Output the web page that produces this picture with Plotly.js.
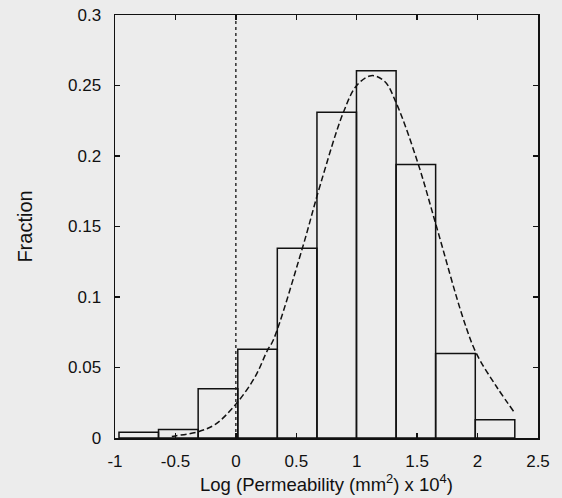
<!DOCTYPE html>
<html>
<head>
<meta charset="utf-8">
<script src="https://cdn.plot.ly/plotly-3.0.1.min.js"></script>
<style>
  html, body { margin: 0; padding: 0; background: #ececec; }
  #chart { width: 562px; height: 498px; }
</style>
</head>
<body>
<div id="chart"></div>
<script>
// Histogram bin edges (log permeability) and fractions
const binEdges = [-0.967, -0.64, -0.312, 0.016, 0.343, 0.671, 0.998, 1.326, 1.653, 1.981, 2.308];
const fractions = [0.004, 0.006, 0.035, 0.063, 0.1345, 0.231, 0.2605, 0.194, 0.06, 0.013];

// Dashed fitted curve
const curveX = [-0.53, -0.50, -0.31, -0.17, 0.0, 0.16, 0.26, 0.31, 0.55, 0.70, 0.89, 1.0, 1.12, 1.23, 1.33, 1.51, 1.66, 1.88, 1.99, 2.16, 2.31];
const curveY = [0.001, 0.0015, 0.0045, 0.0097, 0.024, 0.0435, 0.062, 0.0695, 0.1345, 0.180, 0.231, 0.250, 0.257, 0.253, 0.237, 0.194, 0.150, 0.085, 0.060, 0.036, 0.0175];

// Vertical reference line at x = 0
const refLineX = [0, 0];
const refLineY = [0, 0.3];

// Tick labels
const xTickVals = [-1, -0.5, 0, 0.5, 1, 1.5, 2, 2.5];
const xTickText = ['-1', '-0.5', '0', '0.5', '1', '1.5', '2', '2.5'];
const yTickVals = [0, 0.05, 0.1, 0.15, 0.2, 0.25, 0.3];
const yTickText = ['0', '0.05', '0.1', '0.15', '0.2', '0.25', '0.3'];

const centers = fractions.map((_, i) => (binEdges[i] + binEdges[i + 1]) / 2);
const widths = fractions.map((_, i) => binEdges[i + 1] - binEdges[i]);

const traces = [
  {
    type: 'bar',
    x: centers,
    y: fractions,
    width: widths,
    marker: { color: 'rgba(0,0,0,0)', line: { color: '#111', width: 1.5 } },
    hoverinfo: 'x+y',
    showlegend: false
  },
  {
    type: 'scatter',
    mode: 'lines',
    x: refLineX,
    y: refLineY,
    line: { color: '#222', width: 1.4, dash: 'dot' },
    showlegend: false
  },
  {
    type: 'scatter',
    mode: 'lines',
    x: curveX,
    y: curveY,
    line: { color: '#111', width: 1.5, dash: '6px,3px', shape: 'spline', smoothing: 1 },
    showlegend: false
  }
];

const family = 'Liberation Sans, Arial, sans-serif';
const tickFont = { family: family, size: 17, color: '#111' };

const layout = {
  width: 562,
  height: 498,
  margin: { l: 115, r: 24, t: 15, b: 60 },
  paper_bgcolor: '#ececec',
  plot_bgcolor: '#ececec',
  font: tickFont,
  showlegend: false,
  bargap: 0,
  xaxis: {
    range: [-1, 2.5],
    tickvals: xTickVals,
    ticktext: xTickText,
    ticks: 'inside',
    ticklen: 5,
    tickwidth: 1.5,
    tickcolor: '#111',
    showline: true,
    linecolor: '#111',
    linewidth: 1.5,
    mirror: 'ticks',
    showgrid: false,
    zeroline: false,
    ticklabelstandoff: 7,
    tickfont: tickFont,
    title: {
      text: 'Log (Permeability (mm<sup>2</sup>) x 10<sup>4</sup>)',
      font: { family: family, size: 18.5, color: '#111' },
      standoff: 0
    }
  },
  yaxis: {
    range: [0, 0.3],
    tickvals: yTickVals,
    ticktext: yTickText,
    ticks: 'inside',
    ticklen: 5,
    tickwidth: 1.5,
    tickcolor: '#111',
    showline: true,
    linecolor: '#111',
    linewidth: 1.5,
    mirror: 'ticks',
    showgrid: false,
    zeroline: false,
    ticklabelstandoff: 9,
    tickfont: tickFont,
    title: {
      text: 'Fraction',
      font: { family: family, size: 20, color: '#111' },
      standoff: 30
    }
  }
};

Plotly.newPlot('chart', traces, layout, { displayModeBar: false, staticPlot: true });
</script>
</body>
</html>
